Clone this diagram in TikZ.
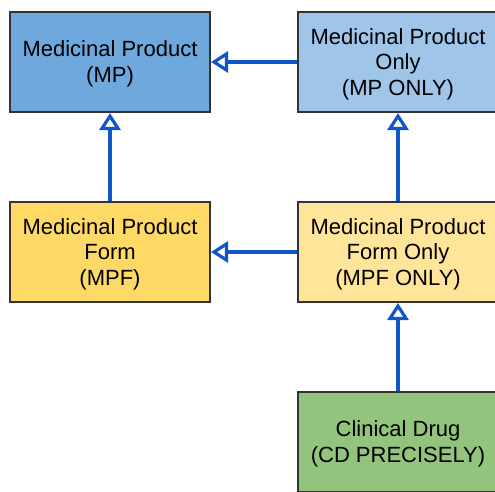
\documentclass[tikz,border=0pt]{standalone}
\usepackage{fontspec}
\setmainfont{Liberation Sans}
\usetikzlibrary{arrows.meta}
\definecolor{mpblue}{HTML}{6FA8DC}
\definecolor{mponly}{HTML}{9FC5E8}
\definecolor{mpf}{HTML}{FFD966}
\definecolor{mpfonly}{HTML}{FFE599}
\definecolor{cdgreen}{HTML}{93C47D}
\definecolor{edge}{HTML}{333333}
\definecolor{link}{HTML}{1155CC}
% centred multi-line label, set a little below the box centre
\newcommand{\boxlines}[1]{\raisebox{-2.5pt}[\height][\depth]{\begin{tabular}{@{}c@{}}#1\end{tabular}}}
\tikzset{
  x=1pt, y=1pt,
  concept/.style={draw=edge, line width=2pt, minimum width=200pt, minimum height=100pt,
    inner sep=0pt, font=\fontsize{22}{25.5}\selectfont},
  isa/.style={draw=link, line width=4pt,
    -{Triangle[open, length=17pt, width=21pt, line width=3.2pt]}}
}
\begin{document}
\begin{tikzpicture}
\useasboundingbox (0,0) rectangle (495,-491);
\node[concept, fill=mpblue] (mp) at (110,-62) {\boxlines{Medicinal Product\\(MP)}};
\node[concept, fill=mponly] (mponly) at (398,-62) {\boxlines{Medicinal Product\\Only\\(MP ONLY)}};
\node[concept, fill=mpf] (mpf) at (110,-252) {\boxlines{Medicinal Product\\Form\\(MPF)}};
\node[concept, fill=mpfonly] (mpfonly) at (398,-252) {\boxlines{Medicinal Product\\Form Only\\(MPF ONLY)}};
\node[concept, fill=cdgreen] (cd) at (398,-442) {\boxlines{Clinical Drug\\(CD PRECISELY)}};
\draw[isa] (mponly) -- (mp);
\draw[isa] (mpf) -- (mp);
\draw[isa] (mpfonly) -- (mpf);
\draw[isa] (mpfonly) -- (mponly);
\draw[isa] (cd) -- (mpfonly);
\end{tikzpicture}
\end{document}
